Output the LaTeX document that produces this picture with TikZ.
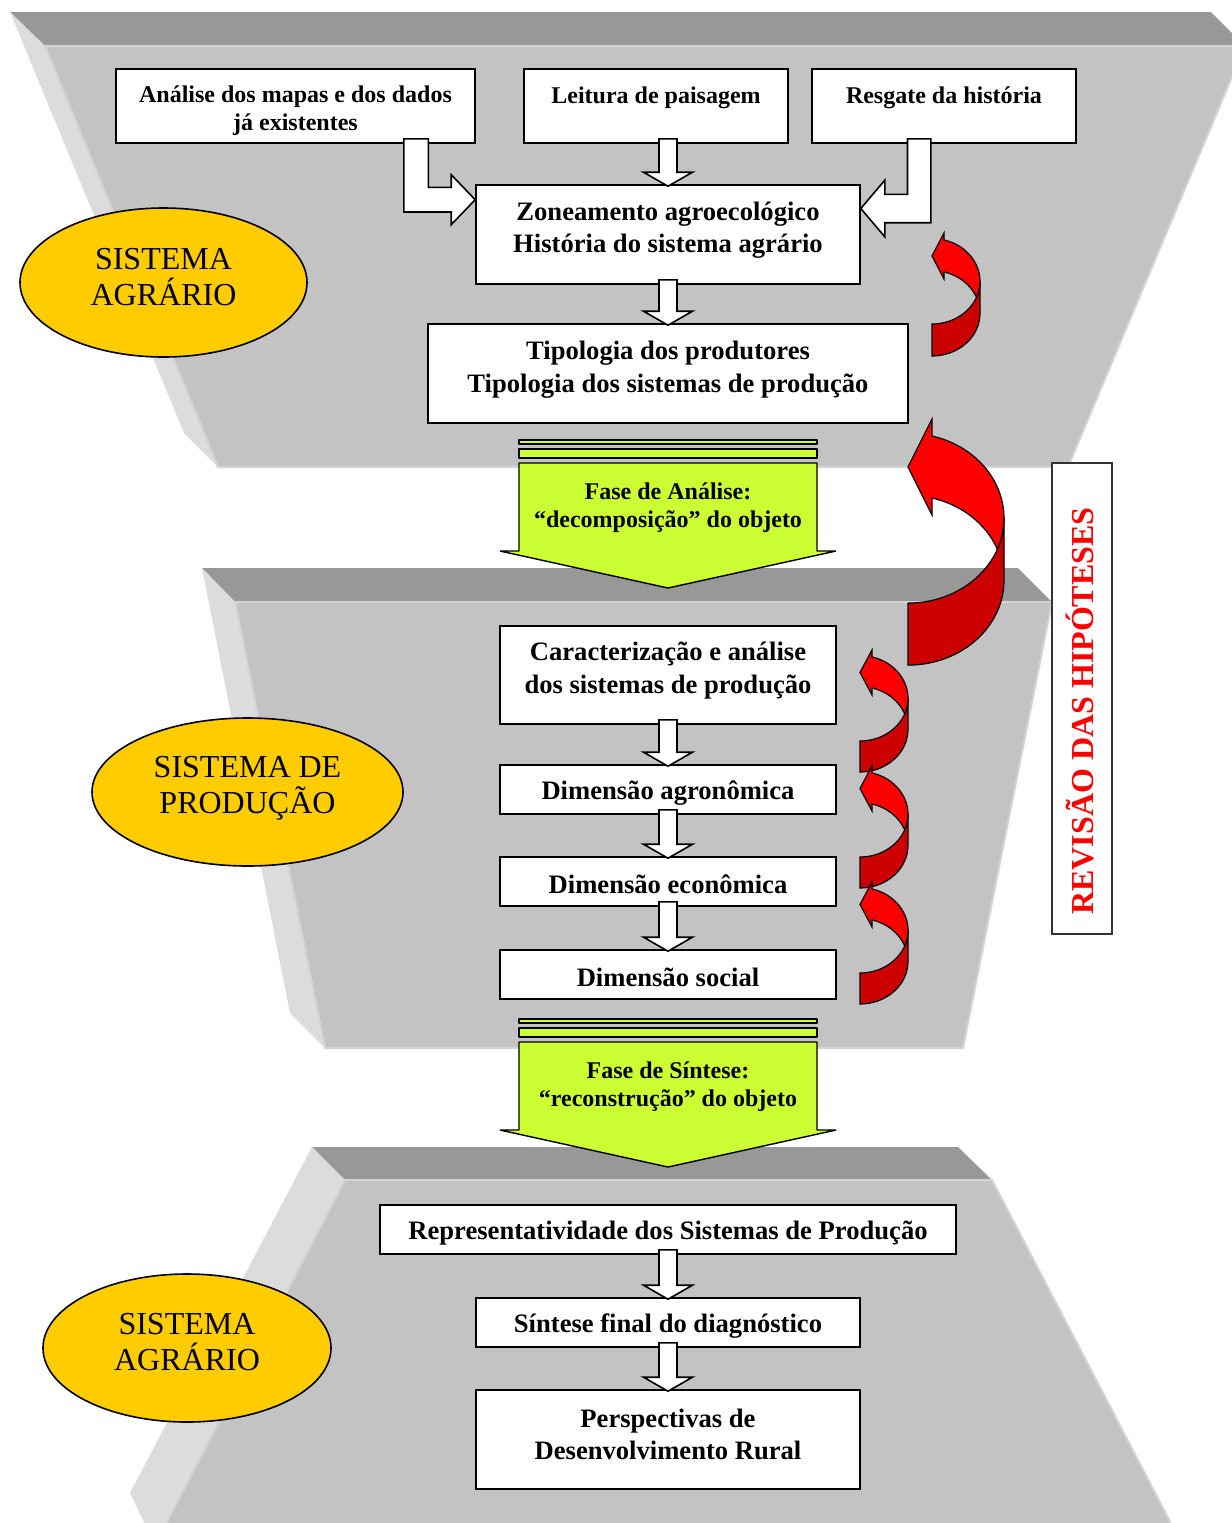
\documentclass[tikz,border=0pt]{standalone}
\usepackage{fontspec}
\setmainfont{Liberation Serif}
\usetikzlibrary{shapes.geometric,calc}
\definecolor{bandgray}{RGB}{152,152,152}
\definecolor{frontgray}{RGB}{195,195,195}
\definecolor{sidegray}{RGB}{220,220,220}
\definecolor{edgegray}{RGB}{212,212,212}
\definecolor{sysyellow}{RGB}{255,204,0}
\definecolor{limegreen}{RGB}{204,255,51}
\definecolor{brightred}{RGB}{255,0,0}
\definecolor{darkred}{RGB}{204,0,0}
\definecolor{revred}{RGB}{255,0,0}

\tikzset{
  band/.style={fill=bandgray},
  side/.style={fill=sidegray},
  front/.style={fill=frontgray, draw=edgegray, line width=1pt},
  box/.style={draw=black, line width=0.8pt, fill=white, inner sep=0pt},
  tsmall/.style={font=\fontsize{12}{14}\selectfont\bfseries, align=center, inner sep=0pt},
  tbig/.style={font=\fontsize{13.3}{16.3}\selectfont\bfseries, align=center, inner sep=0pt},
  ell/.style={ellipse, draw=black, line width=0.8pt, fill=sysyellow, inner sep=0pt},
  tell/.style={font=\fontsize{16}{18}\selectfont, align=center, inner sep=0pt},
  blk/.style={draw=black, line width=0.8pt, fill=white, line join=miter},
  limefill/.style={draw=black, line width=0.7pt, fill=limegreen, line join=bevel},
  curldark/.style={draw=black, line width=0.6pt, fill=darkred},
  curlbright/.style={draw=black, line width=0.6pt, fill=brightred, line join=miter},
}

\newcommand\dnarrow[2]{%
  \draw[blk] ($(#1.south -| #2.north)+(-9,-5)$) -- ($(#1.south -| #2.north)+(9,-5)$)
    -- ($(#2.north)+(9,-12)$) -- ($(#2.north)+(24.5,-12)$) -- ($(#2.north)+(0,2)$)
    -- ($(#2.north)+(-24.5,-12)$) -- ($(#2.north)+(-9,-12)$) -- cycle;}

\newcommand\redcurl[7]{%
  \pgfmathsetmacro\rcCu{#3+#4}%
  \pgfmathsetmacro\rcCl{\rcCu+#5}%
  \pgfmathsetmacro\rcA{acos(#6/#2)}%
  \pgfmathsetmacro\rcB{asin(#5/(2*#4))}%
  \pgfmathsetmacro\rcYo{\rcCu-#4*sin(\rcA)}%
  \pgfmathsetmacro\rcYi{\rcYo+#5}%
  \pgfmathsetmacro\rcXa{#1+#6}%
  \pgfmathsetmacro\rcYt{(\rcYo+\rcYi)/2}%
  \pgfmathsetmacro\rcBot{\rcCl+#4}%
  \pgfmathsetmacro\rcR{#1+#2}%
  \pgfmathsetmacro\rcHi{\rcYi+#7}%
  \pgfmathsetmacro\rcHo{\rcYo-#7}%
  \draw[curldark] (#1,\rcBot) arc[start angle=90, end angle=0, x radius=#2, y radius=#4]
     -- (\rcR,\rcCu) arc[start angle=0, end angle=90, x radius=#2, y radius=#4] -- cycle;
  \draw[curlbright] (\rcXa,\rcYo) arc[start angle=-\rcA, end angle=\rcB, x radius=#2, y radius=#4]
     arc[start angle=-\rcB, end angle=-\rcA, x radius=#2, y radius=#4]
     -- (\rcXa,\rcHi) -- (#1,\rcYt) -- (\rcXa,\rcHo) -- cycle;}

\newcommand\limearrow[1]{%
  \draw[limefill] (519,440+#1) rectangle (817,444+#1);
  \draw[limefill] (519,449+#1) rectangle (817,458+#1);
  \draw[limefill] (519,463+#1) -- (817,463+#1) -- (817,551+#1) -- (836,551+#1)
     -- (668,588+#1) -- (500,551+#1) -- (519,551+#1) -- cycle;}

\begin{document}
\begin{tikzpicture}[x=0.5pt,y=-0.5pt]
\useasboundingbox (0,0) rectangle (1232,1523);
\fill[white] (0,0) rectangle (1232,1523);
\clip (0,0) rectangle (1232,1523);

% ---------- funnel 1 ----------
\fill[band] (10,12) -- (1211,12) -- (1245,46) -- (45,46) -- cycle;
\fill[side] (10,12) -- (45,46) -- (218,467) -- (184,433) -- cycle;
\draw[front] (45,46) -- (1245,46) -- (1068,467) -- (218,467) -- cycle;

% ---------- funnel 2 ----------
\fill[band] (202,568) -- (1018,568) -- (1052,602) -- (235,602) -- cycle;
\fill[side] (202,568) -- (235,602) -- (325,1048) -- (290,1013) -- cycle;
\draw[front] (235,602) -- (1052,602) -- (963,1048) -- (325,1048) -- cycle;

% ---------- funnel 3 ----------
\fill[band] (312,1147) -- (958,1147) -- (992,1180) -- (345,1180) -- cycle;
\fill[side] (312,1147) -- (345,1180) -- (160,1535) -- (150,1535) -- (130,1493) -- cycle;
\draw[front] (345,1180) -- (992,1180) -- (1177,1535) -- (160,1535) -- cycle;

% ---------- boxes ----------
\node[box, minimum width=179.5pt, minimum height=37pt] (b1) at (295.5,106) {};
\node[tsmall] (b1t) at (295.5,111) {Análise dos mapas e dos dados\\já existentes};
\node[box, minimum width=132pt, minimum height=37pt] (b2) at (656,106) {};
\node[tsmall] (b2t) at (656,98) {Leitura de paisagem};
\node[box, minimum width=132pt, minimum height=37pt] (b3) at (944,106) {};
\node[tsmall] (b3t) at (944,98) {Resgate da história};

\node[box, minimum width=192pt, minimum height=49.5pt] (z) at (668,234.5) {};
\node[tbig] (zt) at (668,230) {Zoneamento agroecológico\\História do sistema agrário};
\node[box, minimum width=240pt, minimum height=49.5pt] (t) at (668,373.5) {};
\node[tbig] (tt) at (668,369.5) {Tipologia dos produtores\\Tipologia dos sistemas de produção};

\node[box, minimum width=168pt, minimum height=49pt] (c) at (668,675) {};
\node[tbig] (ct) at (668,670.5) {Caracterização e análise\\dos sistemas de produção};
\node[box, minimum width=168pt, minimum height=24.5pt] (d1) at (668,789.5) {};
\node[tbig] (d1t) at (668,793) {Dimensão agronômica};
\node[box, minimum width=168pt, minimum height=24.5pt] (d2) at (668,881.5) {};
\node[tbig] (d2t) at (668,884.5) {Dimensão econômica};
\node[box, minimum width=168pt, minimum height=24.5pt] (d3) at (668,974.5) {};
\node[tbig] (d3t) at (668,977.5) {Dimensão social};

\node[box, minimum width=288pt, minimum height=24.5pt] (r) at (668,1229.5) {};
\node[tbig] (rt0) at (668,1233) {Representatividade dos Sistemas de Produção};
\node[box, minimum width=192pt, minimum height=24.5pt] (s) at (668,1322.5) {};
\node[tbig] (st) at (668,1326) {Síntese final do diagnóstico};
\node[box, minimum width=192pt, minimum height=49.5pt] (p) at (668,1439.5) {};
\node[tbig] (pt) at (668,1434.5) {Perspectivas de\\Desenvolvimento Rural};

% ---------- white block arrows ----------
\coordinate (la) at ($(b1.south east)+(-72,-5)$);
\coordinate (lt) at ($(z.north west)+(0,15.5)$);
\draw[blk] (la) -- ++(24.5,0) |- ($(lt)+(-24,-12.3)$) -- ($(lt)+(-24,-25)$) -- (lt)
   -- ($(lt)+(-24,25)$) -- ($(lt)+(-24,12.3)$) -| (la) -- cycle;

\coordinate (ra) at ($(b3.south west)+(119.7,-5)$);
\coordinate (rt) at ($(z.north east)+(0,24.3)$);
\draw[blk] (ra) -- ++(-23.4,0) |- ($(rt)+(24,-14.2)$) -- ($(rt)+(24,-28.3)$) -- (rt)
   -- ($(rt)+(24,28.3)$) -- ($(rt)+(24,14.2)$) -| (ra) -- cycle;

\dnarrow{b2}{z}
\dnarrow{z}{t}
\dnarrow{c}{d1}
\dnarrow{d1}{d2}
\dnarrow{d2}{d3}
\dnarrow{r}{s}
\dnarrow{s}{p}

% ---------- striped green arrows ----------
\limearrow{0}
\node[tsmall] (fa) at (668,508) {Fase de Análise:\\“decomposição” do objeto};
\limearrow{579}
\node[tsmall] (fs) at (668,1087) {Fase de Síntese:\\“reconstrução” do objeto};

% ---------- ellipses ----------
\node[ell, minimum width=143.5pt, minimum height=74.5pt] (e1) at (163.5,282.5) {};
\node[tell] (e1t) at (163.5,277) {SISTEMA\\AGRÁRIO};
\node[ell, minimum width=155.5pt, minimum height=74pt] (e2) at (247.5,792) {};
\node[tell] (e2t) at (247.5,788) {SISTEMA DE\\PRODUÇÃO};
\node[ell, minimum width=144pt, minimum height=74pt] (e3) at (187,1348) {};
\node[tell] (e3t) at (187,1342) {SISTEMA\\AGRÁRIO};

% ---------- red curved arrows ----------
\redcurl{932}{48}{238.6}{42.7}{32}{12}{7}
\redcurl{908}{96}{433.3}{84.9}{62}{24}{17}
\redcurl{860}{48}{655.6}{42.7}{31}{12}{7}
\redcurl{860}{48}{771.6}{42.7}{31}{12}{7}
\redcurl{860}{48}{887.6}{42.7}{31}{12}{7}

% ---------- revision box ----------
\node[draw=black!80, line width=0.8pt, fill=white, minimum width=30pt, minimum height=235.5pt, inner sep=0pt] (rev) at (1082,698.5) {};
\node[rotate=90, text=revred, font=\fontsize{16}{18}\selectfont\bfseries, inner sep=0pt, text height=11pt, text depth=0pt] (revt) at (1082,711) {REVISÃO DAS HIPÓTESES};
\end{tikzpicture}
\end{document}
